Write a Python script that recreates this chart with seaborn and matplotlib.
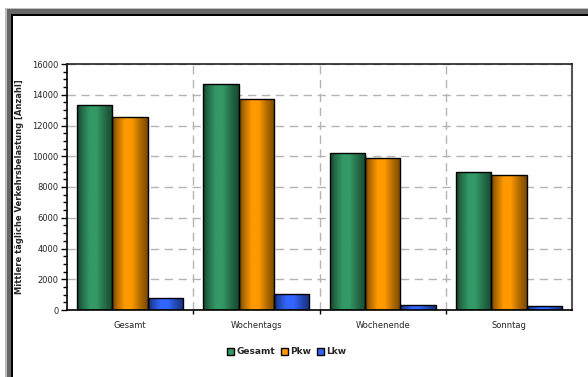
import numpy as np
import pandas as pd
import matplotlib
matplotlib.use("Agg")
import matplotlib.pyplot as plt
from matplotlib.patches import Rectangle, Patch
from matplotlib.colors import to_rgb
from matplotlib.ticker import MultipleLocator, FixedLocator, FuncFormatter
import seaborn as sns

# Mittlere tägliche Verkehrsbelastung je Zeitraum
categories = ["Gesamt", "Wochentags", "Wochenende", "Sonntag"]
gesamt = [13350, 14720, 10210, 8960]
pkw = [12550, 13700, 9890, 8780]
lkw = [780, 1020, 330, 240]
series_names = ["Gesamt", "Pkw", "Lkw"]
y_ticks = [0, 2000, 4000, 6000, 8000, 10000, 12000, 14000, 16000]

colors = {"Gesamt": "#339966", "Pkw": "#FF9900", "Lkw": "#3366FF"}

df = pd.DataFrame({
    "Zeitraum": categories * 3,
    "Wert": gesamt + pkw + lkw,
    "Serie": [s for s in series_names for _ in categories],
})

sns.set_theme(style="white")
plt.rcParams["font.family"] = ["Liberation Sans Narrow", "DejaVu Sans"]

W, H = 588, 377
fig = plt.figure(figsize=(W / 100, H / 100), dpi=100)

# framed panel: light grey, dark grey and black edges running off the page
def fig_rect(x, y, color, z):
    fig.patches.append(Rectangle((x / W, 0), 1.2, 1 - y / H, transform=fig.transFigure,
                                 facecolor=color, edgecolor="none", zorder=z))

fig_rect(5, 8, "#bdbdbd", -4)
fig_rect(7, 9, "#666666", -3)
fig_rect(11, 14, "#000000", -2)
fig_rect(13, 16, "#ffffff", -1)

ax = fig.add_axes([67 / W, 1 - 310 / H, (572 - 67) / W, (310 - 64) / H])
ax.set_facecolor("none")

sns.barplot(data=df, x="Zeitraum", y="Wert", hue="Serie", order=categories,
            hue_order=series_names, palette=colors, width=0.84, dodge=True,
            edgecolor="black", linewidth=1.0, saturation=1, legend=False, ax=ax, zorder=3)

# cylinder-like horizontal shading on each bar
t = np.linspace(0, 1, 64)
shade = np.interp(t, [0, 0.12, 0.35, 0.55, 0.8, 1.0], [0.42, 0.68, 1.0, 1.0, 0.68, 0.48])
for patch in list(ax.patches):
    x0, y0 = patch.get_x(), patch.get_y()
    w, h = patch.get_width(), patch.get_height()
    if h <= 0:
        continue
    base = np.array(to_rgb(patch.get_facecolor()))
    grad = (shade[:, None] * base[None, :])[None, :, :]
    im = ax.imshow(grad, extent=[x0, x0 + w, y0, y0 + h], aspect="auto",
                   interpolation="bilinear", zorder=2.5)
    im.set_clip_path(patch)
    patch.set_facecolor("none")
    patch.set_zorder(3)

ax.set_xlim(-0.5, 3.5)
ax.set_ylim(0, 16000)
ax.set_aspect("auto")

ax.yaxis.set_major_locator(FixedLocator(y_ticks))
ax.yaxis.set_minor_locator(MultipleLocator(500))
ax.yaxis.set_major_formatter(FuncFormatter(lambda v, p: f"{int(v)}"))
ax.xaxis.set_minor_locator(FixedLocator([0.5, 1.5, 2.5]))

ax.grid(True, axis="y", which="major", color="#b4b4b4", linestyle=(0, (6, 4)), linewidth=1, zorder=1)
ax.grid(True, axis="x", which="minor", color="#b4b4b4", linestyle=(0, (6, 4)), linewidth=1, zorder=1)
ax.grid(False, axis="x", which="major")
ax.set_axisbelow(True)

ax.tick_params(axis="y", which="major", direction="out", length=4, width=1, color="black",
               labelsize=6, pad=2, left=True)
ax.tick_params(axis="y", which="minor", direction="out", length=3, width=1, color="black", left=True)
ax.tick_params(axis="x", which="major", length=0, labelsize=6, pad=8)
ax.tick_params(axis="x", which="minor", direction="out", length=3, width=1, color="black", bottom=True)

for side in ["left", "bottom"]:
    ax.spines[side].set_color("black")
    ax.spines[side].set_linewidth(1.2)
ax.spines["top"].set_color("#222222")
ax.spines["top"].set_linewidth(1.2)
ax.spines["right"].set_color("#555555")
ax.spines["right"].set_linewidth(1.5)

ax.set_xlabel("")
ax.set_ylabel("Mittlere tägliche Verkehrsbelastung [Anzahl]", fontsize=6, fontweight="bold", labelpad=6)

handles = [Patch(facecolor=colors[s], edgecolor="black", linewidth=1) for s in series_names]
fig.legend(handles, series_names, loc="center", bbox_to_anchor=(287 / W, 1 - 352 / H), ncol=3,
           frameon=False, handlelength=0.75, handleheight=0.75, handletextpad=0.3, columnspacing=0.6,
           prop={"size": 6.5, "weight": "bold"})

fig.savefig("out.png", dpi=100)
